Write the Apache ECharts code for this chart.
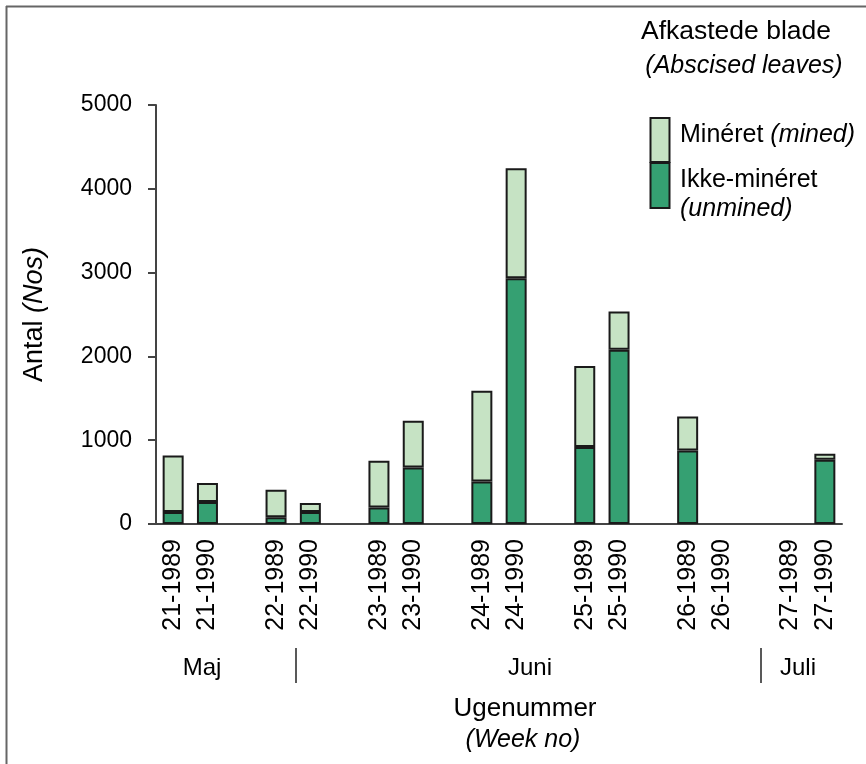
<!DOCTYPE html>
<html>
<head>
<meta charset="utf-8">
<title>Afkastede blade</title>
<script src="https://cdn.jsdelivr.net/npm/echarts@6/dist/echarts.min.js"></script>
<style>
  html, body { margin: 0; padding: 0; background: #fff; }
  #chart { width: 866px; height: 764px; }
</style>
</head>
<body>
<div id="chart"></div>
<script>
// week-year categories, '' = empty slot between weeks
const categories = ['21-1989', '21-1990', '', '22-1989', '22-1990', '', '23-1989', '23-1990', '',
  '24-1989', '24-1990', '', '25-1989', '25-1990', '', '26-1989', '26-1990', '', '27-1989', '27-1990']

const unmined = [143, 262, null, 80, 143, null, 198, 675, null, 508, 2934, null, 918, 2079, null, 878, null, null, null, 767]
const mined = [675, 227, null, 329, 107, null, 557, 557, null, 1082, 1311, null, 966, 457, null, 405, null, null, null, 71]

const yTicks = [0, 1000, 2000, 3000, 4000, 5000]

const font = 'Liberation Sans, Arial, sans-serif'
const darkGreen = '#35a072'
const lightGreen = '#c6e3c4'
const edge = '#1a1a1a'

const chart = echarts.init(document.getElementById('chart'))

function label(x, y, text, size, italic) {
  return {
    type: 'text',
    x: x,
    y: y,
    style: {
      text: text,
      font: (italic ? 'italic ' : '') + size + 'px ' + font,
      fill: '#000',
      textAlign: 'center',
      textVerticalAlign: 'middle'
    }
  }
}

chart.setOption({
  animation: false,
  textStyle: { fontFamily: font, color: '#000' },
  grid: {
    left: 156,
    right: 24,
    top: 105,
    bottom: 240
  },
  xAxis: {
    type: 'category',
    data: categories,
    axisLine: { lineStyle: { color: '#444', width: 2 } },
    axisTick: { show: false },
    axisLabel: {
      rotate: 90,
      interval: 0,
      margin: 15,
      fontSize: 25,
      fontFamily: font,
      color: '#000'
    }
  },
  yAxis: {
    type: 'value',
    min: 0,
    max: 5000,
    interval: 1000,
    name: '{a|Antal }{b|(Nos)}',
    nameLocation: 'middle',
    nameRotate: 90,
    nameGap: 108,
    nameTextStyle: {
      rich: {
        a: { fontSize: 27, fontFamily: font },
        b: { fontSize: 27, fontFamily: font, fontStyle: 'italic' }
      }
    },
    axisLine: { show: true, lineStyle: { color: '#444', width: 2 } },
    axisTick: { show: true, length: 8, lineStyle: { color: '#444', width: 2 } },
    splitLine: { show: false },
    axisLabel: {
      margin: 24,
      fontSize: 23,
      fontFamily: font,
      color: '#000',
      formatter: function(v) { return yTicks.indexOf(v) > -1 ? String(v) : '' }
    }
  },
  series: [{
    name: 'Ikke-minéret',
    type: 'bar',
    stack: 'blade',
    barWidth: 21,
    itemStyle: { color: darkGreen, borderColor: edge, borderWidth: 2 },
    data: unmined
  }, {
    name: 'Minéret',
    type: 'bar',
    stack: 'blade',
    barWidth: 21,
    itemStyle: { color: lightGreen, borderColor: edge, borderWidth: 2 },
    data: mined
  }],
  graphic: [
    // frame (top + left only)
    { type: 'line', shape: { x1: 6, y1: 6.5, x2: 866, y2: 6.5 }, style: { stroke: '#666', lineWidth: 2 } },
    { type: 'line', shape: { x1: 6.5, y1: 6, x2: 6.5, y2: 764 }, style: { stroke: '#666', lineWidth: 2 } },
    // title
    label(736, 32, 'Afkastede blade', 26.5, false),
    label(744, 66, '(Abscised leaves)', 25, true),
    // legend
    { type: 'rect', shape: { x: 650.5, y: 118, width: 19, height: 44 }, style: { fill: lightGreen, stroke: edge, lineWidth: 2 } },
    { type: 'rect', shape: { x: 650.5, y: 163, width: 19, height: 45 }, style: { fill: darkGreen, stroke: edge, lineWidth: 2 } },
    {
      type: 'text', x: 680, y: 135,
      style: {
        text: '{a|Minéret }{b|(mined)}',
        textVerticalAlign: 'middle',
        rich: {
          a: { fontSize: 25, fontFamily: font, fill: '#000' },
          b: { fontSize: 25, fontFamily: font, fontStyle: 'italic', fill: '#000' }
        }
      }
    },
    { type: 'text', x: 680, y: 180, style: { text: 'Ikke-minéret', font: '25px ' + font, fill: '#000', textVerticalAlign: 'middle' } },
    { type: 'text', x: 680, y: 209, style: { text: '(unmined)', font: 'italic 25px ' + font, fill: '#000', textVerticalAlign: 'middle' } },
    // months
    label(202, 668, 'Maj', 24, false),
    label(530, 668, 'Juni', 24, false),
    label(798, 668, 'Juli', 24, false),
    { type: 'line', shape: { x1: 296, y1: 648, x2: 296, y2: 683 }, style: { stroke: '#222', lineWidth: 1.5 } },
    { type: 'line', shape: { x1: 761, y1: 648, x2: 761, y2: 683 }, style: { stroke: '#222', lineWidth: 1.5 } },
    // x axis title
    label(525, 709, 'Ugenummer', 26, false),
    label(523, 740, '(Week no)', 25, true)
  ]
})
</script>
</body>
</html>
